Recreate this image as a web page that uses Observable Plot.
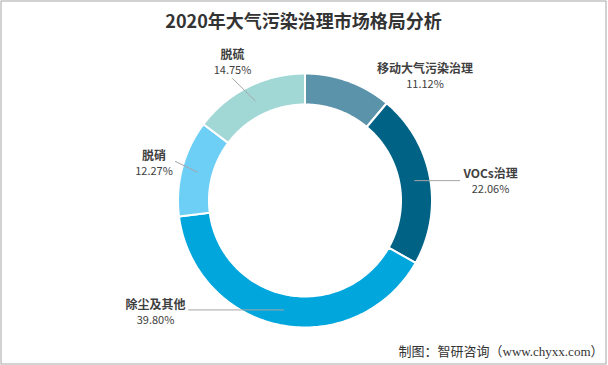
<!DOCTYPE html>
<html>
<head>
<meta charset="utf-8">
<script src="https://cdn.jsdelivr.net/npm/d3@7"></script>
<script src="https://cdn.jsdelivr.net/npm/@observablehq/plot@0.6"></script>
<style>
  html, body { margin: 0; padding: 0; background: #fff; }
  svg { display: block; }
</style>
</head>
<body>
<div id="chart"></div>
<script>
// ---- data ----
const title = "2020年大气污染治理市场格局分析";
const source = "制图：智研咨询（www.chyxx.com）";
const names = ["移动大气污染治理", "VOCs治理", "除尘及其他", "脱硝", "脱硫"];
const shares = [11.12, 22.06, 39.80, 12.27, 14.75];
const pctLabels = ["11.12%", "22.06%", "39.80%", "12.27%", "14.75%"];

// ---- style / layout ----
const colors = ["#5B93AA", "#006385", "#00A6DC", "#6DCFF6", "#A1D8D6"];
const CX = 304.5, CY = 200, R = 127, INNER = 0.756;
// label anchor positions, in radius units relative to the centre (y up)
const labelLayout = [[0.945, 0.98], [1.461, 0.15], [-1.177, -0.882], [-1.189, 0.291], [-0.571, 1.087]];
// leader end points (radius units); y null = horizontal leader; null = no leader
const leaderEnd = [null, [1.217, null], [-0.917, null], [-1.02, 0.307], [-0.571, 0.961]];

const total = d3.sum(shares);
let cum = 0;
const slices = names.map((name, i) => {
  const a0 = cum / total * 2 * Math.PI;
  cum += shares[i];
  const a1 = cum / total * 2 * Math.PI;
  return {name, a0, a1, mid: (a0 + a1) / 2, i};
});

const ringPts = [];
const N = 120;
for (const s of slices) {
  const pts = [];
  for (let k = 0; k <= N; k++) {
    const a = s.a0 + (s.a1 - s.a0) * k / N;
    pts.push({name: s.name, x: Math.sin(a), y: Math.cos(a)});
  }
  for (let k = N; k >= 0; k--) {
    const a = s.a0 + (s.a1 - s.a0) * k / N;
    pts.push({name: s.name, x: INNER * Math.sin(a), y: INNER * Math.cos(a)});
  }
  pts.push({...pts[0]});
  ringPts.push(...pts);
}

const RM = (1 + INNER) / 2;
const leaders = [];
slices.forEach((s, i) => {
  const e = leaderEnd[i];
  if (!e) return;
  const x0 = RM * Math.sin(s.mid), y0 = RM * Math.cos(s.mid);
  leaders.push({id: i, x: x0, y: y0});
  leaders.push({id: i, x: e[0], y: e[1] == null ? y0 : e[1]});
});

const labels = slices.map((s, i) => ({
  name: s.name, pct: pctLabels[i], x: labelLayout[i][0], y: labelLayout[i][1]
}));

const font = "'Noto Sans CJK SC', 'Noto Sans', sans-serif";

const chart = Plot.plot({
  width: 608,
  height: 365,
  marginTop: 0, marginLeft: 0, marginRight: 2, marginBottom: 1,
  x: {domain: [-1, 1], range: [CX - R, CX + R], axis: null},
  y: {domain: [1, -1], range: [CY - R, CY + R], axis: null},
  color: {domain: names, range: colors},
  style: {fontFamily: font, background: "#fff"},
  marks: [
    Plot.frame({stroke: "#A6A6A6", strokeWidth: 1, inset: 0.5}),
    Plot.line(ringPts, {x: "x", y: "y", z: "name", fill: "name", stroke: "#fff", strokeWidth: 2, curve: "linear"}),
    Plot.line(leaders, {x: "x", y: "y", z: "id", stroke: "#A6A6A6", strokeWidth: 1}),
    Plot.text(labels, {x: "x", y: "y", text: "name", dy: -7, fontSize: 12, fontWeight: "bold", fill: "#404040"}),
    Plot.text(labels, {x: "x", y: "y", text: "pct", dy: 8, fontSize: 11, fill: "#404040"}),
    Plot.text([title], {text: d => d, frameAnchor: "top", lineAnchor: "middle", dy: 22, fontSize: 18, fontWeight: "bold", fill: "#333"}),
    Plot.text([source], {text: d => d, frameAnchor: "bottom-right", textAnchor: "end", lineAnchor: "middle", dx: -3, dy: -13, fontSize: 13, fill: "#333",
      fontFamily: "'Liberation Serif', 'Noto Sans CJK SC', serif"})
  ]
});
document.getElementById("chart").append(chart);
</script>
</body>
</html>
